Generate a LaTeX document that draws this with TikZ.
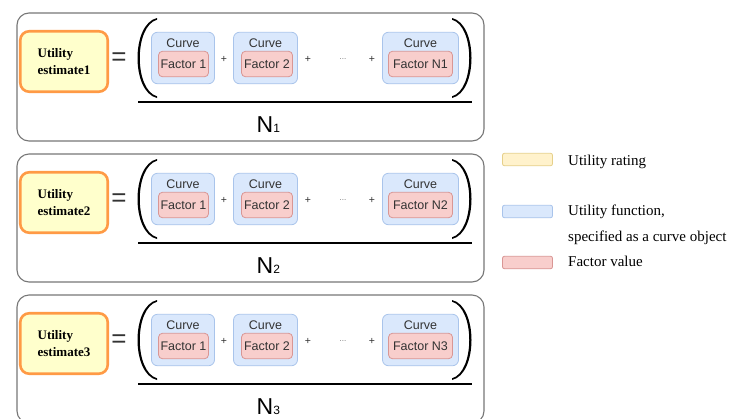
\documentclass[tikz,border=0pt]{standalone}
\usepackage{fontspec}
\setmainfont{Liberation Serif}
\setsansfont{Liberation Sans}
\definecolor{uyfill}{HTML}{FFFFCC}
\definecolor{uyline}{HTML}{FF9A45}
\definecolor{cbfill}{HTML}{DAE8FC}
\definecolor{cbline}{HTML}{A9C4EB}
\definecolor{frfill}{HTML}{F8CECC}
\definecolor{frline}{HTML}{D99694}
\definecolor{lyfill}{HTML}{FFF2CC}
\definecolor{lyline}{HTML}{E6D08A}
\definecolor{panelgray}{HTML}{777777}
\definecolor{txtgray}{HTML}{333333}
\begin{document}
\begin{tikzpicture}[x=1pt,y=-1pt,
  panel/.style={draw=panelgray, line width=1.1pt, rounded corners=12pt, fill=white},
  ubox/.style={draw=uyline, fill=uyfill, line width=2.6pt, rounded corners=9pt,
    minimum width=87.5pt, minimum height=60.5pt, inner sep=0pt, align=left,
    font=\fontsize{13}{17}\selectfont\bfseries, text=black},
  cbox/.style={draw=cbline, fill=cbfill, line width=0.8pt, rounded corners=6pt,
    minimum height=51.5pt, inner sep=0pt},
  fbox/.style={draw=frline, fill=frfill, line width=0.8pt, rounded corners=4pt,
    minimum height=25.5pt, inner sep=0pt, font=\sffamily\fontsize{12.5}{14}\selectfont, text=txtgray},
  curvelbl/.style={font=\sffamily\fontsize{12.5}{14}\selectfont, text=txtgray, inner sep=0pt},
  plussign/.style={font=\sffamily\fontsize{10.5}{11}\selectfont, text=txtgray, inner sep=0pt},
  dotsign/.style={font=\sffamily\fontsize{8}{9}\selectfont, text=black!55, inner sep=0pt},
  eqsign/.style={font=\sffamily\fontsize{26}{26}\selectfont, text=txtgray, inner sep=0pt},
  nlabel/.style={inner sep=0pt, anchor=base west, text=black},
  paren/.style={fill=black},
  fracline/.style={draw=black, line width=2pt},
  swatch/.style={line width=0.8pt, rounded corners=2pt, minimum width=50pt, minimum height=12.5pt, inner sep=0pt},
  legtext/.style={font=\fontsize{15}{18}\selectfont, anchor=west, inner sep=0pt, text=black}
]
\useasboundingbox (0,0) rectangle (735,418);
\fill[white] (0,0) rectangle (735,418);

\foreach \i/\yy/\lastname in {1/13/N1,2/154/N2,3/295/N3}{
\begin{scope}[yshift=-\yy pt]
  \draw[panel] (17,0) rectangle (484,128);
  \node[ubox] (u\i) at (64,48.5) {Utility\\estimate\i};
  \node[eqsign] (eq\i) at (119,46) {=};
  % parentheses
  \fill[paren] (157,5) .. controls (131,11) and (131,79) .. (157,85)
     -- (157,83.3) .. controls (134,77) and (134,13) .. (157,6.7) -- cycle;
  \fill[paren] (452,5) .. controls (478,11) and (478,79) .. (452,85)
     -- (452,83.3) .. controls (475,77) and (475,13) .. (452,6.7) -- cycle;
  % curve boxes
  \node[cbox, minimum width=63pt] (ca\i) at (183,45) {};
  \node[cbox, minimum width=64pt] (cb\i) at (265.5,45) {};
  \node[cbox, minimum width=76pt] (cc\i) at (420.5,45) {};
  \node[curvelbl] (la\i) at (183,30) {Curve};
  \node[curvelbl] (lb\i) at (265.5,30) {Curve};
  \node[curvelbl] (lc\i) at (420.5,30) {Curve};
  \node[fbox, minimum width=50pt] (fa\i) at (183.5,51) {Factor 1};
  \node[fbox, minimum width=51pt] (fb\i) at (267,51) {Factor 2};
  \node[fbox, minimum width=64pt] (fc\i) at (420.5,51) {Factor \lastname};
  \node[plussign] (pa\i) at (224,46) {+};
  \node[plussign] (pb\i) at (308,46) {+};
  \node[dotsign] (dd\i) at (343,46.5) {...};
  \node[plussign] (pc\i) at (372,46) {+};
  % fraction line
  \draw[fracline] (138,89) -- (472,89);
  \node[nlabel] (n\i) at (256.5,119.5) {\sffamily\fontsize{23}{23}\selectfont N{\fontsize{12}{12}\selectfont\i}};
\end{scope}
}

% legend
\node[swatch, draw=lyline, fill=lyfill] (ly) at (527.5,159.5) {};
\node[swatch, draw=cbline, fill=cbfill] (lb) at (527.5,211.5) {};
\node[swatch, draw=frline, fill=frfill] (lr) at (527.5,262.5) {};
\node[legtext] (lyt) at (568,162) {Utility rating};
\node[legtext] (lbt) at (568,212) {Utility function,};
\node[legtext] (lbt2) at (568,238) {specified as a curve object};
\node[legtext] (lrt) at (568,261) {Factor value};
\end{tikzpicture}
\end{document}
